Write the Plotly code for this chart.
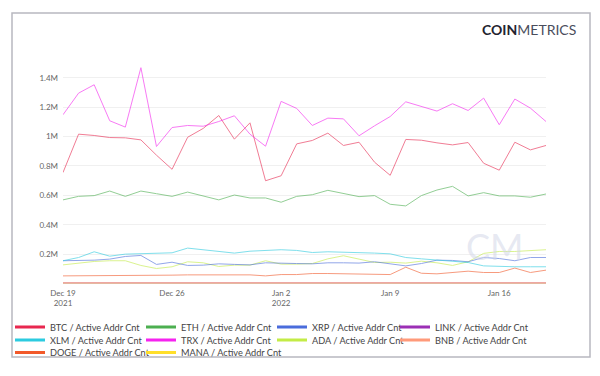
import plotly.graph_objects as go
import pandas as pd

dates = pd.date_range("2021-12-19", "2022-01-19", freq="D")

btc = [0.755, 1.016, 1.007, 0.993, 0.991, 0.977, 0.873, 0.777, 0.995, 1.055, 1.143, 0.982, 1.093, 0.699, 0.733, 0.950,
       0.973, 1.023, 0.939, 0.961, 0.825, 0.736, 0.980, 0.975, 0.957, 0.943, 0.959, 0.818, 0.771, 0.961, 0.909, 0.939]
eth = [0.569, 0.593, 0.598, 0.629, 0.593, 0.629, 0.611, 0.593, 0.622, 0.596, 0.569, 0.602, 0.582, 0.582, 0.553, 0.593,
       0.604, 0.634, 0.611, 0.591, 0.598, 0.539, 0.528, 0.598, 0.636, 0.661, 0.596, 0.618, 0.596, 0.596, 0.587, 0.609]
xrp = [0.155, 0.155, 0.159, 0.166, 0.184, 0.191, 0.130, 0.145, 0.123, 0.125, 0.134, 0.130, 0.127, 0.141, 0.141, 0.136,
       0.134, 0.141, 0.141, 0.139, 0.148, 0.134, 0.120, 0.136, 0.159, 0.157, 0.148, 0.177, 0.170, 0.155, 0.177, 0.177]
link = [0.004, 0.004, 0.005, 0.004, 0.004, 0.004, 0.003, 0.004, 0.004, 0.005, 0.004, 0.004, 0.003, 0.003, 0.004, 0.004,
        0.005, 0.005, 0.004, 0.004, 0.004, 0.004, 0.005, 0.005, 0.004, 0.004, 0.004, 0.004, 0.004, 0.005, 0.004, 0.004]
xlm = [0.155, 0.177, 0.216, 0.186, 0.200, 0.202, 0.202, 0.209, 0.241, 0.230, 0.223, 0.207, 0.220, 0.227, 0.230, 0.225,
       0.211, 0.216, 0.214, 0.209, 0.207, 0.202, 0.177, 0.168, 0.161, 0.152, 0.143, 0.120, 0.116, 0.114, 0.114, 0.114]
trx = [1.148, 1.295, 1.352, 1.107, 1.064, 1.468, 0.932, 1.061, 1.075, 1.070, 1.102, 1.141, 1.016, 0.934, 1.239, 1.191,
       1.075, 1.125, 1.120, 1.005, 1.073, 1.136, 1.236, 1.205, 1.173, 1.223, 1.177, 1.261, 1.080, 1.255, 1.193, 1.102]
ada = [0.127, 0.141, 0.150, 0.155, 0.155, 0.123, 0.102, 0.114, 0.148, 0.141, 0.116, 0.125, 0.125, 0.155, 0.132, 0.132,
       0.136, 0.168, 0.189, 0.166, 0.143, 0.145, 0.139, 0.152, 0.141, 0.123, 0.148, 0.205, 0.218, 0.218, 0.223, 0.230]
bnb = [0.006, 0.006, 0.006, 0.007, 0.006, 0.006, 0.006, 0.006, 0.007, 0.007, 0.006, 0.006, 0.006, 0.006, 0.007, 0.007,
       0.007, 0.007, 0.006, 0.006, 0.006, 0.006, 0.007, 0.007, 0.007, 0.006, 0.006, 0.006, 0.006, 0.007, 0.007, 0.006]
doge = [0.052, 0.052, 0.052, 0.055, 0.052, 0.057, 0.052, 0.057, 0.059, 0.059, 0.059, 0.059, 0.059, 0.052, 0.061, 0.061,
        0.068, 0.068, 0.066, 0.064, 0.061, 0.061, 0.111, 0.070, 0.066, 0.075, 0.084, 0.075, 0.075, 0.105, 0.075, 0.091]
mana = [0.002, 0.002, 0.002, 0.002, 0.002, 0.002, 0.002, 0.002, 0.002, 0.003, 0.002, 0.002, 0.002, 0.002, 0.002, 0.002,
        0.002, 0.002, 0.002, 0.002, 0.002, 0.002, 0.002, 0.002, 0.002, 0.002, 0.003, 0.002, 0.002, 0.002, 0.002, 0.002]

names = ["BTC", "ETH", "XRP", "LINK", "XLM", "TRX", "ADA", "BNB", "DOGE", "MANA"]
values = [btc, eth, xrp, link, xlm, trx, ada, bnb, doge, mana]
colors = ["#e8274f", "#4caf50", "#4a6cdc", "#9b2fb5", "#2ccbe0", "#f523ef", "#c3ec46", "#ff9a7a", "#f2592a", "#ffdf2a"]
draw_order = ["MANA", "LINK", "BNB", "DOGE", "ADA", "XRP", "XLM", "ETH", "BTC", "TRX"]

y_tick_vals = [200000, 400000, 600000, 800000, 1000000, 1200000, 1400000]
y_tick_text = ["0.2M", "0.4M", "0.6M", "0.8M", "1M", "1.2M", "1.4M"]

series = {n: (v, c) for n, v, c in zip(names, values, colors)}

OFF = 8  # page body margin offset
W, H = 600, 376
L = 63 - OFF
T = 63 - OFF
R = W - (546 - OFF)
B = H - (285 - OFF)
pw, ph = W - L - R, H - T - B


def px(x):
    return (x - OFF - L) / pw


def py(y):
    return (H - B - (y - OFF)) / ph


fig = go.Figure()
for n in draw_order:
    v, c = series[n]
    fig.add_trace(go.Scatter(x=dates, y=[val * 1e6 for val in v], mode="lines",
                             line=dict(color=c, width=1), opacity=0.6,
                             name=f"{n} / Active Addr Cnt", showlegend=False, legendgroup=n))

# legend grid: each entry in its own legend box (4 columns x 3 rows)
col_text_x = [50, 181, 312, 435]
row_center_y = [327, 340, 352.5]
legend_layouts = {}
for i, (n, c) in enumerate(zip(names, colors)):
    lid = "legend" if i == 0 else f"legend{i + 1}"
    fig.add_trace(go.Scatter(x=[None], y=[None], mode="lines", line=dict(color=c, width=3),
                             name=f"{n} / Active Addr Cnt", legendgroup=n, showlegend=True,
                             legend=lid))
    legend_layouts[lid] = dict(orientation="h", x=px(col_text_x[i % 4] - 40), y=py(row_center_y[i // 4]),
                               xanchor="left", yanchor="middle",
                               font=dict(size=9.2, color="#444"), itemwidth=30,
                               bgcolor="rgba(0,0,0,0)")

fig.update_layout(
    width=W, height=H,
    margin=dict(l=L, r=R, t=T, b=B, autoexpand=False),
    paper_bgcolor="white", plot_bgcolor="white",
    font=dict(family="Lato, 'Open Sans', sans-serif", color="#555"),
    xaxis=dict(range=[dates[0], dates[-1]], tick0="2021-12-19", dtick=7 * 86400000,
               showgrid=False, zeroline=False, showline=False, ticklabelstandoff=2,
               tickfont=dict(size=8, color="#666")),
    yaxis=dict(range=[-10000, 1500000], tickvals=y_tick_vals, ticktext=y_tick_text,
               showgrid=True, gridcolor="#f0f0f0", gridwidth=1, zeroline=False, showline=False,
               tickfont=dict(size=8, color="#666"), ticklabelstandoff=4),
    shapes=[dict(type="rect", xref="paper", yref="paper",
                 x0=px(12), x1=px(590), y0=py(357), y1=py(13),
                 line=dict(color="#b8b8c0", width=1.5), fillcolor="rgba(0,0,0,0)", layer="below")],
    annotations=[
        dict(text="<b>COIN</b><span style='color:#4a4d5c'>METRICS</span>", xref="paper", yref="paper",
             x=px(578), y=py(30), xanchor="right", yanchor="middle", showarrow=False,
             font=dict(family="Lato, sans-serif", size=14, color="#23232f")),
        dict(text="CM", xref="paper", yref="paper", x=px(494), y=py(246),
             xanchor="center", yanchor="middle", showarrow=False,
             font=dict(family="Lato, sans-serif", size=36, color="rgba(210,214,232,0.55)")),
    ],
)
fig.update_layout(**legend_layouts)

fig.write_html("out.html")
